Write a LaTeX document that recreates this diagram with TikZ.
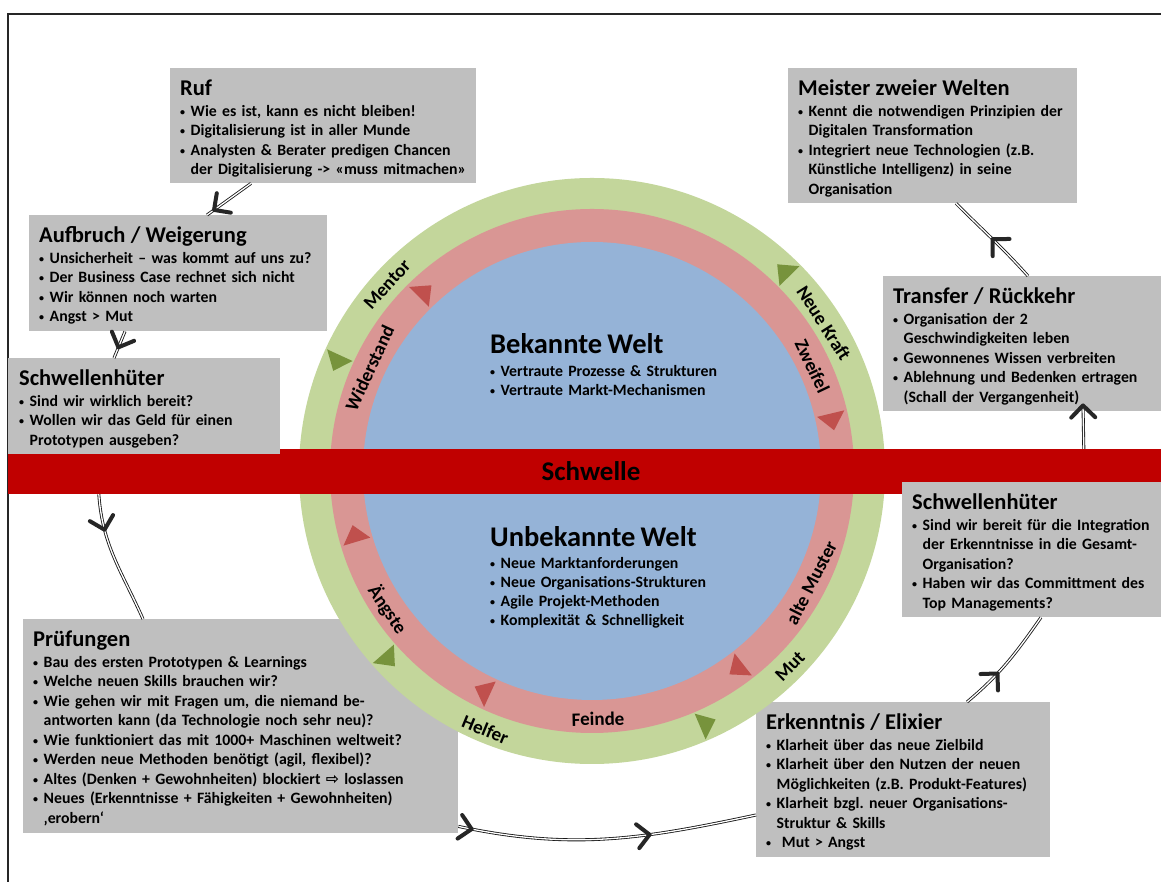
\documentclass[tikz,border=0pt]{standalone}
\usepackage{fontspec}
\setmainfont{Carlito}
\newfontfamily\arrowsymfont{DejaVu Sans}
\usetikzlibrary{calc,decorations.markings}

\definecolor{boxgray}{HTML}{BFBFBF}
\definecolor{ringgreen}{HTML}{C3D69B}
\definecolor{ringred}{HTML}{D99694}
\definecolor{worldblue}{HTML}{95B3D7}
\definecolor{bandred}{HTML}{C00000}
\definecolor{trigreen}{HTML}{77933C}
\definecolor{trired}{HTML}{C0504D}
\definecolor{barbgray}{HTML}{262626}

% bullet helpers for the panels
\newcommand{\bulmark}{\makebox[10.5pt][l]{\raisebox{1pt}{\fontsize{10}{10}\selectfont •}}}
\newcommand{\bulind}{\hspace*{10.5pt}}
\newcommand{\paneltitle}[1]{{\fontsize{22.5}{24}\selectfont\rule{0pt}{18pt}#1}\\[1.5pt]}
\newcommand{\tightspaces}{\frenchspacing\spaceskip=0.2em\relax}

\tikzset{
  frameline/.style={draw=black!85, line width=1.4pt},
  panel/.style={fill=boxgray, draw=none, inner sep=0pt, anchor=north west},
  paneltext/.style={anchor=north west, inner sep=0pt, align=left, text width=#1,
    font=\fontsize{15.8}{19.5}\selectfont\bfseries\tightspaces},
  worldtext/.style={anchor=north west, inner sep=0pt, align=left, text width=320pt,
    font=\fontsize{15.8}{19}\selectfont\bfseries\tightspaces},
  ringlabel/.style={inner sep=0pt, font=\fontsize{19}{20}\selectfont\bfseries},
  bandbox/.style={fill=bandred, inner sep=0pt, minimum height=45pt, minimum width=1166pt,
    font=\fontsize{27}{28}\selectfont\bfseries},
  link/.style={preaction={draw=black!90, double=white, double distance=1.3pt, line width=0.85pt}},
  barb/.style={draw=barbgray, line width=4pt, line cap=round, line join=round},
  barbat/.style={postaction={decorate, decoration={markings,
    mark=at position #1 with {\draw[barb] (-12pt,12pt) -- (0pt,0pt) -- (-12pt,-12pt);}}}},
}

\begin{document}
\begin{tikzpicture}[x=1pt, y=1pt]
\useasboundingbox (0,0) rectangle (1161,882);
\fill[white] (0,0) rectangle (1161,882);

% outer frame
\draw[frameline] (8,0) -- (8,868) -- (1161,868);

% panels that lie beneath the rings
\node[panel, minimum width=435pt, minimum height=214pt] (pruef) at (23,263) {};
\node[paneltext=423pt] (pruef-t) at ([shift={(10pt,-9pt)}]pruef.north west)
  {\paneltitle{Prüfungen}
   \bulmark Bau des ersten Prototypen \& Learnings\\
   \bulmark Welche neuen Skills brauchen wir?\\
   \bulmark Wie gehen wir mit Fragen um, die niemand be-\\
   \bulind antworten kann (da Technologie noch sehr neu)?\\
   \bulmark Wie funktioniert das mit 1000+ Maschinen weltweit?\\
   \bulmark Werden neue Methoden benötigt (agil, flexibel)?\\
   \bulmark Altes (Denken + Gewohnheiten) blockiert {\arrowsymfont ⇨} loslassen\\
   \bulmark Neues (Erkenntnisse + Fähigkeiten + Gewohnheiten)\\
   \bulind ‚erobern‘};

\node[panel, minimum width=294pt, minimum height=155pt] (erk) at (756,180) {};
\node[paneltext=282pt] (erk-t) at ([shift={(10pt,-9pt)}]erk.north west)
  {\paneltitle{Erkenntnis / Elixier}
   \bulmark Klarheit über das neue Zielbild\\
   \bulmark Klarheit über den Nutzen der neuen\\
   \bulind Möglichkeiten (z.B. Produkt-Features)\\
   \bulmark Klarheit bzgl. neuer Organisations-\\
   \bulind Struktur \& Skills\\
   \bulmark\ Mut > Angst};

% the two worlds with their rings
\coordinate (C) at (592,411);
\fill[ringgreen] (C) circle[radius=293pt];
\fill[ringred] (C) circle[radius=262pt];
\fill[worldblue] (C) circle[radius=229pt];

\begin{scope}[shift={(C)}]
  \foreach \a in {133.5,12.2,-53.3,-115.9,-164.6}
    \fill[trired] (\a+1.32:231.5pt) -- (\a+1.32:259.5pt) -- (\a-2.65:245.5pt) -- cycle;
  \foreach \a in {156.5,45.8,-137.6,-65.9}
    \fill[trigreen] (\a-1.17:263.5pt) -- (\a-1.17:291.5pt) -- (\a+2.34:277.5pt) -- cycle;
\end{scope}

\node[ringlabel, rotate=47.7]  (lbl-mentor)  at ([shift={(137.7:277pt)}]C) {Mentor};
\node[ringlabel, rotate=65.2]  (lbl-wider)   at ([shift={(155.2:245pt)}]C) {Widerstand};
\node[ringlabel, rotate=-57.5] (lbl-kraft)   at ([shift={(32.5:275pt)}]C) {Neue Kraft};
\node[ringlabel, rotate=-64.6] (lbl-zweifel) at ([shift={(25.4:244pt)}]C) {Zweifel};
\node[ringlabel, rotate=63]    (lbl-muster)  at ([shift={(-27:246pt)}]C) {alte Muster};
\node[ringlabel, rotate=45.4]  (lbl-mut)     at ([shift={(-44.6:278pt)}]C) {Mut};
\node[ringlabel, rotate=1.4]   (lbl-feinde)  at ([shift={(-88.6:248pt)}]C) {Feinde};
\node[ringlabel, rotate=-22.4] (lbl-helfer)  at ([shift={(-112.4:280pt)}]C) {Helfer};
\node[ringlabel, rotate=-55.9] (lbl-aengste) at ([shift={(-145.9:247pt)}]C) {Ängste};

\node[worldtext] (known) at (490,552)
  {{\fontsize{28.5}{30}\selectfont\rule{0pt}{23pt}Bekannte Welt}\\[4pt]
   \bulmark Vertraute Prozesse \& Strukturen\\
   \bulmark Vertraute Markt-Mechanismen};
\node[worldtext] (unknown) at (490,359)
  {{\fontsize{28.5}{30}\selectfont\rule{0pt}{23pt}Unbekannte Welt}\\[3pt]
   \bulmark Neue Marktanforderungen\\
   \bulmark Neue Organisations-Strukturen\\
   \bulmark Agile Projekt-Methoden\\
   \bulmark Komplexität \& Schnelligkeit};

% threshold band
\node[bandbox] (band) at (591,410.5) {Schwelle};

% remaining stage panels
\node[panel, minimum width=306pt, minimum height=115pt] (ruf) at (170,814) {};
\node[paneltext=294pt] (ruf-t) at ([shift={(10pt,-9pt)}]ruf.north west)
  {\paneltitle{Ruf}
   \bulmark Wie es ist, kann es nicht bleiben!\\
   \bulmark Digitalisierung ist in aller Munde\\
   \bulmark Analysten \& Berater predigen Chancen\\
   \bulind der Digitalisierung -> «muss mitmachen»};

\node[panel, minimum width=298pt, minimum height=116pt] (auf) at (29,667) {};
\node[paneltext=286pt] (auf-t) at ([shift={(10pt,-9pt)}]auf.north west)
  {\paneltitle{Aufbruch / Weigerung}
   \bulmark Unsicherheit – was kommt auf uns zu?\\
   \bulmark Der Business Case rechnet sich nicht\\
   \bulmark Wir können noch warten\\
   \bulmark Angst > Mut};

\node[panel, minimum width=272pt, minimum height=96pt] (schwL) at (8,524) {};
\node[paneltext=260pt] (schwL-t) at ([shift={(11pt,-9pt)}]schwL.north west)
  {\paneltitle{Schwellenhüter}
   \bulmark Sind wir wirklich bereit?\\
   \bulmark Wollen wir das Geld für einen\\
   \bulind Prototypen ausgeben?};

\node[panel, minimum width=263pt, minimum height=135pt] (schwR) at (902,400) {};
\node[paneltext=250pt] (schwR-t) at ([shift={(10pt,-9pt)}]schwR.north west)
  {\paneltitle{Schwellenhüter}
   \bulmark Sind wir bereit für die Integration\\
   \bulind der Erkenntnisse in die Gesamt-\\
   \bulind Organisation?\\
   \bulmark Haben wir das Committment des\\
   \bulind Top Managements?};

\node[panel, minimum width=282pt, minimum height=135pt] (transfer) at (883,606) {};
\node[paneltext=270pt] (transfer-t) at ([shift={(10pt,-9pt)}]transfer.north west)
  {\paneltitle{Transfer / Rückkehr}
   \bulmark Organisation der 2\\
   \bulind Geschwindigkeiten leben\\
   \bulmark Gewonnenes Wissen verbreiten\\
   \bulmark Ablehnung und Bedenken ertragen\\
   \bulind (Schall der Vergangenheit)};

\node[panel, minimum width=289pt, minimum height=135pt] (meister) at (788,814) {};
\node[paneltext=277pt] (meister-t) at ([shift={(10pt,-9pt)}]meister.north west)
  {\paneltitle{Meister zweier Welten}
   \bulmark Kennt die notwendigen Prinzipien der\\
   \bulind Digitalen Transformation\\
   \bulmark Integriert neue Technologien (z.B.\\
   \bulind Künstliche Intelligenz) in seine\\
   \bulind Organisation};

% journey connectors
\path[link, barbat=0.84] ([xshift=81pt]ruf.south west) -- ([xshift=178pt]auf.north west);
\path[link, barbat=0.6] ([xshift=96pt]auf.south west) -- ([xshift=106pt]schwL.north west);
\path[link, barbat=0.27] ([xshift=91pt]band.south west) to[out=-86,in=114] ([xshift=120pt]pruef.north west);
\path[link, barbat=0.045, barbat=0.64] ([yshift=7pt]pruef.south east) to[out=-12,in=192] ([yshift=-113pt]erk.north west);
\path[link, barbat=0.37] ([xshift=211pt]erk.north west) to[out=40,in=-125] ([xshift=139pt]schwR.south west);
\path[link, barbat=0.999] ([xshift=1076pt]band.north west) -- ([xshift=200pt,yshift=6pt]transfer.south west);
\path[link, barbat=0.5] ([xshift=145pt]transfer.north west) to[out=132,in=-45] ([xshift=168pt]meister.south west);
\end{tikzpicture}
\end{document}
